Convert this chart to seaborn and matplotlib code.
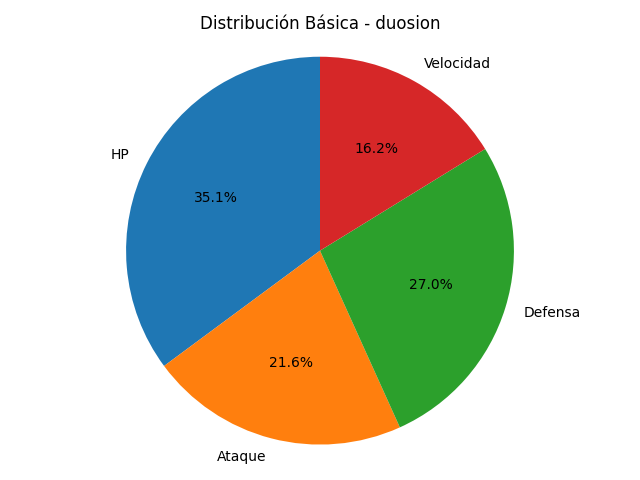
import matplotlib
matplotlib.use("Agg")
import matplotlib.pyplot as plt
import seaborn as sns

labels = ["HP", "Ataque", "Defensa", "Velocidad"]
values = [65, 40, 50, 30]

colors = sns.color_palette("tab10", len(labels))

fig, ax = plt.subplots(figsize=(6.4, 4.8), dpi=100)
ax.pie(values, labels=labels, colors=colors, autopct="%1.1f%%", startangle=90)
ax.set_title("Distribución Básica - duosion")
ax.axis("equal")
plt.tight_layout()
plt.savefig("out.png")
plt.close()
